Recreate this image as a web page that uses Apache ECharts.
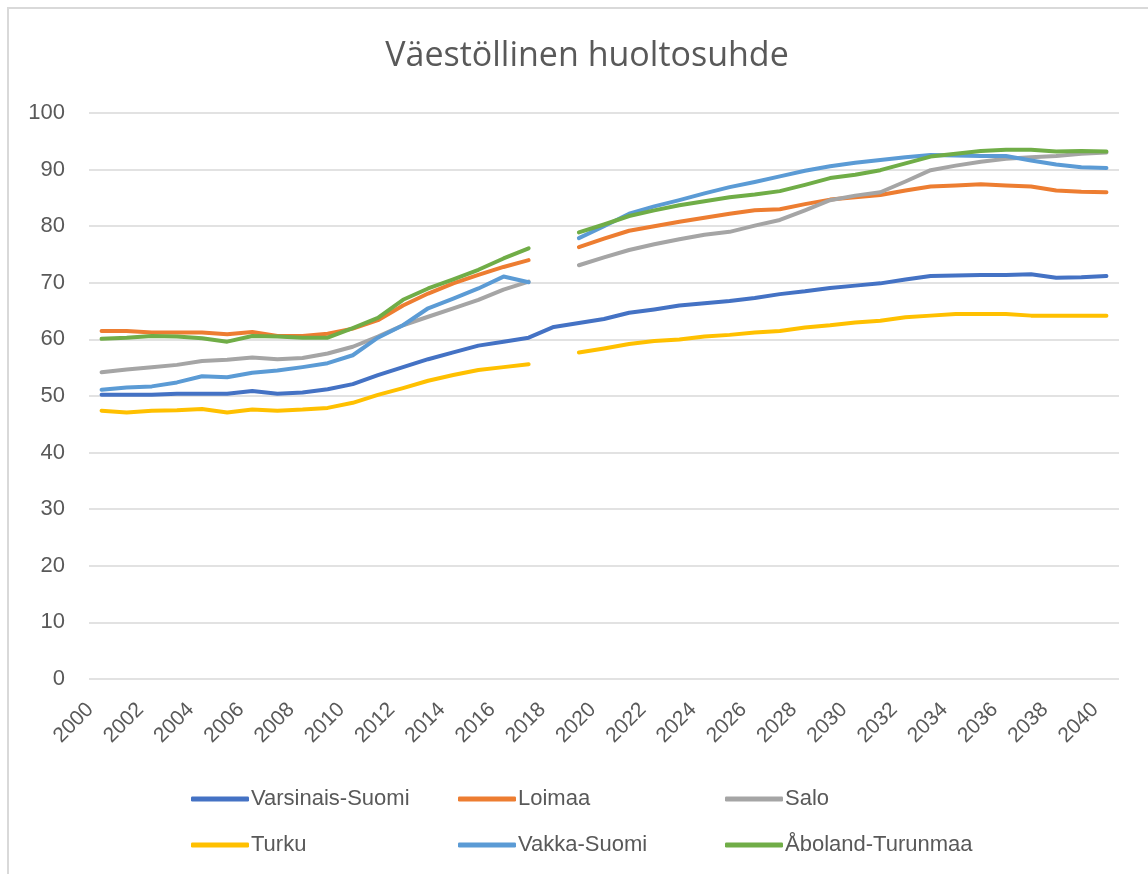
<!DOCTYPE html>
<html>
<head>
<meta charset="utf-8">
<script src="https://cdn.jsdelivr.net/npm/echarts@6/dist/echarts.min.js"></script>
<style>html,body{margin:0;padding:0;background:#fff}#c{width:1148px;height:874px}</style>
</head>
<body>
<div id="c"></div>
<script>
const years = [];
for (let y = 2000; y <= 2040; y++) years.push(String(y));

const varsinaisSuomi = [50.2,50.2,50.2,50.4,50.4,50.4,50.9,50.4,50.6,51.2,52.1,53.7,55.1,56.5,57.7,58.9,59.6,60.3,62.2,62.9,63.6,64.7,65.3,66.0,66.4,66.8,67.3,68.0,68.5,69.1,69.5,69.9,70.6,71.2,71.3,71.4,71.4,71.5,70.9,71.0,71.2];
const loimaa = [61.5,61.5,61.2,61.2,61.2,60.9,61.3,60.6,60.6,61.0,61.9,63.4,66.0,68.1,69.9,71.4,72.8,74.0,null,76.3,77.8,79.2,80.0,80.8,81.5,82.2,82.8,83.0,83.9,84.7,85.1,85.5,86.3,87.0,87.2,87.4,87.2,87.0,86.3,86.1,86.0];
const salo = [54.2,54.7,55.1,55.5,56.2,56.4,56.8,56.5,56.7,57.5,58.7,60.5,62.5,64.0,65.5,67.0,68.8,70.2,null,73.1,74.5,75.8,76.8,77.7,78.5,79.0,80.1,81.1,82.8,84.6,85.4,86.0,87.9,89.9,90.7,91.4,91.9,92.2,92.4,92.8,93.0];
const turku = [47.4,47.1,47.4,47.5,47.7,47.1,47.6,47.4,47.6,47.9,48.8,50.2,51.4,52.7,53.7,54.6,55.1,55.6,null,57.7,58.4,59.2,59.7,60.0,60.5,60.8,61.2,61.5,62.1,62.5,63.0,63.3,63.9,64.2,64.5,64.5,64.5,64.2,64.2,64.2,64.2];
const vakkaSuomi = [51.1,51.5,51.7,52.4,53.5,53.3,54.1,54.5,55.1,55.8,57.2,60.3,62.5,65.5,67.2,69.0,71.1,70.1,null,77.9,80.0,82.2,83.5,84.6,85.8,86.9,87.8,88.8,89.8,90.6,91.2,91.7,92.2,92.6,92.5,92.4,92.4,91.6,90.9,90.4,90.3];
const abolandTurunmaa = [60.1,60.3,60.6,60.5,60.2,59.6,60.6,60.5,60.3,60.3,62.0,63.8,67.0,69.0,70.6,72.3,74.3,76.1,null,78.9,80.3,81.8,82.8,83.7,84.4,85.1,85.6,86.2,87.3,88.5,89.1,89.9,91.1,92.3,92.8,93.3,93.5,93.5,93.2,93.3,93.2];

const seriesNames = ['Varsinais-Suomi','Loimaa','Salo','Turku','Vakka-Suomi','Åboland-Turunmaa'];
const seriesData = [varsinaisSuomi, loimaa, salo, turku, vakkaSuomi, abolandTurunmaa];
const colors = ['#4472C4','#ED7D31','#A5A5A5','#FFC000','#5B9BD5','#70AD47'];

const FONT = 'Liberation Sans';
const TXT = '#595959';

const legendPos = [[186,783],[453,783],[720,783],[186,829],[453,829],[720,829]];

const chart = echarts.init(document.getElementById('c'), null, {renderer:'canvas'});
chart.setOption({
  animation: false,
  backgroundColor: '#fff',
  color: colors,
  graphic: [{
    type: 'rect', shape: {x: 8, y: 8, width: 1200, height: 900},
    style: {fill: 'none', stroke: '#d9d9d9', lineWidth: 2}, silent: true, z: -1
  }],
  title: {
    text: 'Väestöllinen huoltosuhde',
    left: 582, top: 34, textAlign: 'center',
    textStyle: {fontFamily: 'Open Sans', fontSize: 34, fontWeight: 'normal', color: TXT}
  },
  legend: seriesNames.map((n, i) => ({
    data: [n], left: legendPos[i][0], top: legendPos[i][1],
    icon: 'roundRect', itemWidth: 58, itemHeight: 5, itemGap: 0,
    textStyle: {fontFamily: FONT, fontSize: 22, color: TXT, padding: [0,0,0,-3]}
  })),
  grid: {left: 89, right: 29, top: 113, bottom: 874 - 679, containLabel: false},
  xAxis: {
    type: 'category', data: years, boundaryGap: true,
    axisLine: {show: false}, axisTick: {show: false},
    axisLabel: {interval: 1, rotate: 45, margin: 16, padding: [0, 16, 0, 0], fontFamily: FONT, fontSize: 21, color: TXT},
    splitLine: {show: false}
  },
  yAxis: {
    type: 'value', min: 0, max: 100, interval: 10,
    axisLine: {show: false}, axisTick: {show: false},
    axisLabel: {margin: 24, fontFamily: FONT, fontSize: 22, color: TXT},
    splitLine: {lineStyle: {color: '#d9d9d9', width: 1.5}}
  },
  series: seriesNames.map((n, i) => ({
    name: n, type: 'line', data: seriesData[i],
    showSymbol: false, symbol: 'none', connectNulls: false, smooth: false,
    lineStyle: {width: 4, color: colors[i], cap: 'round', join: 'round'},
    itemStyle: {color: colors[i]}
  }))
});
</script>
</body>
</html>
